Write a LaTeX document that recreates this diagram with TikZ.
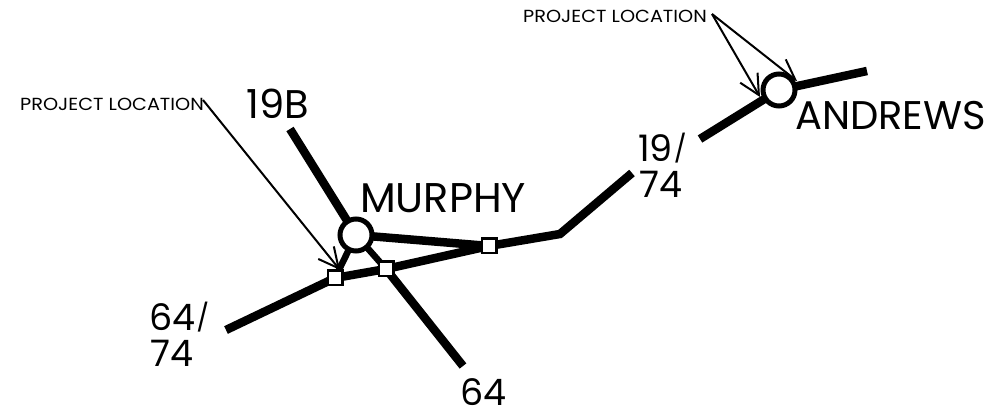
\documentclass[tikz,border=0pt]{standalone}
\usepackage{fontspec}
\setmainfont{Poppins}
\usetikzlibrary{arrows.meta}
\newcommand{\smallslash}{\hspace{1pt}\raisebox{3pt}{\fontsize{27}{27}\selectfont /}}
\tikzset{
 road/.style={line width=8.5pt,line cap=butt,black},
 thinroad/.style={line width=6.5pt,line cap=butt,black},
 leader/.style={line width=2pt,black,-{Straight Barb[length=20pt,width=20pt,line width=2pt]}},
 town/.style={circle,draw=black,fill=white,line width=5pt,minimum size=32pt,inner sep=0pt},
 junction/.style={rectangle,draw=black,fill=white,line width=2.5pt,minimum size=14.5pt,inner sep=0pt},
 biglabel/.style={inner sep=0pt,font=\fontsize{40}{40}\selectfont},
 numlabel/.style={inner sep=0pt,font=\fontsize{36.5}{36.5}\selectfont},
 smalllabel/.style={inner sep=0pt,xscale=1.1,transform shape,font=\fontsize{17.5}{17.5}\selectfont},
}
\begin{document}
\begin{tikzpicture}[x=1pt,y=-1pt]
\useasboundingbox (0,0) rectangle (984,411);
% named points
\coordinate (murphyC) at (356,235);
\coordinate (andrewsC) at (779,90);
\coordinate (j1C) at (335,278);
\coordinate (j2C) at (386,269);
\coordinate (j3C) at (489,246);
\coordinate (end19b) at (290,129);
\coordinate (end64) at (463,366);
\coordinate (end6474) at (226,330);
\coordinate (bend) at (560,234);
\coordinate (gapA) at (632,173);
\coordinate (gapB) at (700,139);
\coordinate (endE) at (867,71);
\coordinate (tipM) at (340,270);
\coordinate (tipA1) at (760,97);
\coordinate (tipA2) at (797,81);
% labels
\node[smalllabel,anchor=west] (plocM) at (20,104) {PROJECT LOCATION};
\node[smalllabel,anchor=west] (plocA) at (523,16) {PROJECT LOCATION};
\coordinate (plocMe) at (203,100);
\coordinate (plocAe) at (712,14);
\node[biglabel,anchor=west] (l19b) at (246,104) {19B};
\node[biglabel,anchor=west,font=\fontsize{41.5}{41.5}\selectfont] (lmur) at (360,198) {MURPHY};
\node[biglabel,anchor=west] (lan) at (795,116) {ANDREWS};
\node[numlabel,anchor=west] (l1974a) at (638,148) {19\smallslash};
\node[numlabel,anchor=west] (l1974b) at (639,184) {74};
\node[numlabel,anchor=west] (l6474a) at (149,317) {64\smallslash};
\node[numlabel,anchor=west] (l6474b) at (150,353) {74};
\node[numlabel,anchor=west] (l64) at (460,392) {64};
% roads
\draw[road] (end19b) -- (murphyC);
\draw[thinroad] (murphyC) -- (j2C);
\draw[road] (j2C) -- (end64);
\draw[thinroad] (murphyC) -- (j1C);
\draw[road] (murphyC) -- (j3C);
\draw[road] (end6474) -- (j1C);
\draw[road] (j1C) -- (j2C) -- (j3C) -- (bend) -- (gapA);
\draw[road] (gapB) -- (andrewsC);
\draw[road] (andrewsC) -- (endE);
% leaders
\draw[leader] (plocMe) -- (tipM);
\draw[leader] (plocAe) -- (tipA1);
\draw[leader] (plocAe) -- (tipA2);
% markers
\node[town] (murphy) at (murphyC) {};
\node[town] (andrews) at (andrewsC) {};
\node[junction] (j1) at (j1C) {};
\node[junction] (j2) at (j2C) {};
\node[junction] (j3) at (j3C) {};
\end{tikzpicture}
\end{document}
